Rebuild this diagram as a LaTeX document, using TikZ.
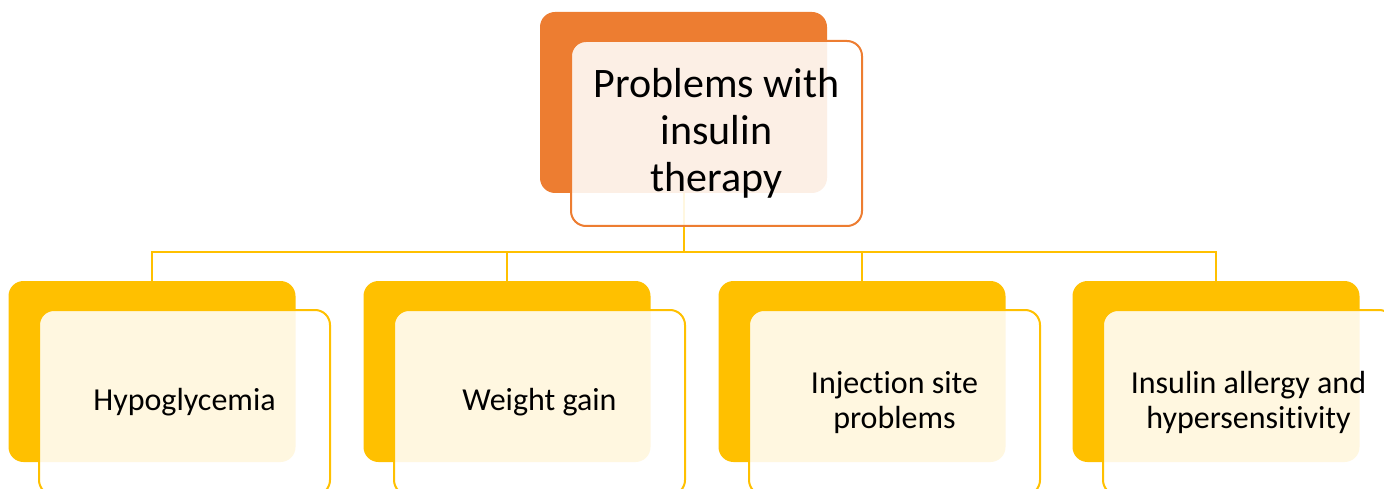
\documentclass[tikz,border=0pt]{standalone}
\usepackage{fontspec}
\setmainfont[Ligatures=NoCommon]{Carlito}
\usepackage{tikz}
\usetikzlibrary{positioning}
\definecolor{naranja}{HTML}{ED7D31}
\definecolor{amarillo}{HTML}{FFC000}

\begin{document}
\begin{tikzpicture}[x=1pt, y=-1pt,
    atras/.style={rounded corners=15pt, minimum width=287pt, minimum height=181pt, inner sep=0pt},
    frente/.style={draw, line width=2pt, rounded corners=15pt, fill=white, fill opacity=0.88, text opacity=1,
      minimum width=291pt, minimum height=185pt, inner sep=0pt, align=center, font=\fontsize{32}{35}\selectfont}]
    \useasboundingbox (0,0) rectangle (1384,489);
    \clip (0,0) rectangle (1384,489);

    % Cajas de fondo
    \node[atras, fill=naranja] (raiz) at (683.5,102.5) {};
    \node[atras, fill=amarillo] (hipo) at (152,371.5) {};
    \node[atras, fill=amarillo] (peso) at (507,371.5) {};
    \node[atras, fill=amarillo] (sitio) at (862,371.5) {};
    \node[atras, fill=amarillo] (alergia) at (1216,371.5) {};

    % Conectores
    \draw[amarillo, line width=2pt] (raiz.south) -- ++(0,59) coordinate (bus);
    \draw[amarillo, line width=2pt] (bus) -| (hipo.north);
    \draw[amarillo, line width=2pt] (bus) -| (peso.north);
    \draw[amarillo, line width=2pt] (bus) -| (sitio.north);
    \draw[amarillo, line width=2pt] (bus) -| (alergia.north);

    % Cajas con texto
    \node[frente, draw=naranja, font=\fontsize{42}{47}\selectfont] (titulo) at (716.5,133.5) {Problems with\\insulin\\therapy};
    \node[frente, draw=amarillo] (thipo) at (184.5,402.5) {Hypoglycemia};
    \node[frente, draw=amarillo] (tpeso) at (539.5,402.5) {Weight gain};
    \node[frente, draw=amarillo] (tsitio) at (894.5,402.5) {Injection site\\problems};
    \node[frente, draw=amarillo] (talergia) at (1248.5,402.5) {Insulin allergy and\\hypersensitivity};
\end{tikzpicture}
\end{document}
